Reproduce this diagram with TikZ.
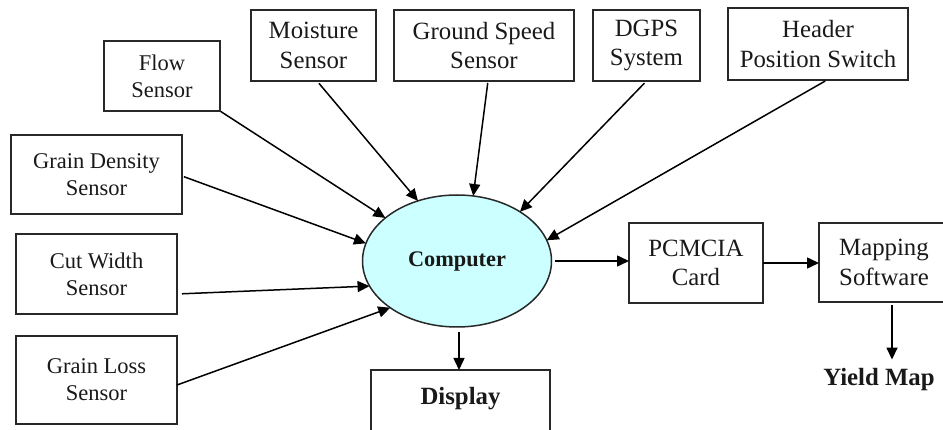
\documentclass[tikz,border=0pt]{standalone}
\usepackage{fontspec}
\setmainfont{Liberation Serif}
\usetikzlibrary{shapes.geometric,arrows.meta}
\definecolor{compfill}{RGB}{204,255,255}
\definecolor{edge}{RGB}{40,40,40}
\definecolor{txt}{RGB}{25,25,25}
\begin{document}
\begin{tikzpicture}[x=1pt,y=-1pt,
  box/.style={draw=edge,line width=1.7pt,rectangle,inner sep=0pt,outer sep=0pt,align=center,text=txt},
  smalltext/.style={font=\fontsize{22.5}{27}\selectfont},
  bigtext/.style={font=\fontsize{24.8}{29.8}\selectfont},
  boldtext/.style={font=\bfseries\fontsize{24.8}{29.8}\selectfont},
  arr/.style={draw=black,line width=1.5pt,-{Triangle[length=12pt,width=11pt]}},
]
\useasboundingbox (0,0) rectangle (943,430);

% sensor boxes
\node[box,smalltext,minimum width=116pt,minimum height=70pt] (flow) at (162,76) {Flow\\Sensor};
\node[box,bigtext,minimum width=125pt,minimum height=71pt] (moist) at (313.5,45.5) {Moisture\\Sensor};
\node[box,bigtext,minimum width=180pt,minimum height=71pt] (ground) at (484,45.5) {Ground Speed\\Sensor};
\node[box,bigtext,minimum width=107pt,minimum height=71pt] (dgps) at (646.5,45.5) {DGPS\\System};
\node[box,bigtext,minimum width=180pt,minimum height=72pt] (header) at (818,44) {Header\\Position Switch};
\node[box,smalltext,minimum width=171pt,minimum height=79pt] (density) at (96.5,174.5) {Grain Density\\Sensor};
\node[box,smalltext,minimum width=161pt,minimum height=80pt] (cut) at (96.5,274) {Cut Width\\Sensor};
\node[box,smalltext,minimum width=161pt,minimum height=88pt] (loss) at (96.5,380) {Grain Loss\\Sensor};

% central unit
\node[draw=edge,line width=1.5pt,ellipse,fill=compfill,minimum width=189pt,minimum height=132pt,
      inner sep=0pt,outer sep=0pt,text=txt,font=\bfseries\fontsize{22.3}{26}\selectfont] (comp) at (457,261) {Computer};

% outputs
\node[box,boldtext,minimum width=179pt,anchor=north,text height=35pt,text depth=35pt] (display) at (460.5,370) {Display};
\node[box,bigtext,minimum width=134pt,minimum height=80pt] (pcmcia) at (696,263) {PCMCIA\\Card};
\node[box,bigtext,minimum width=130pt,minimum height=79pt] (mapping) at (884,262.5) {Mapping\\Software};
\node[boldtext,text=txt,inner sep=0pt] (yield) at (879,380) {Yield Map};

% connectors
\draw[arr,shorten <=1pt] (flow.south east) -- (comp.149);
\draw[arr,shorten <=3pt] ([xshift=3.5pt]moist.south) -- (comp.123);
\draw[arr,shorten <=2pt] ([xshift=4pt]ground.south) -- (comp.76);
\draw[arr,shorten <=3pt] (dgps.south) -- (comp.38);
\draw[arr,shorten <=2pt] ([xshift=9pt]header.south) -- (comp.13);
\draw[arr,shorten <=2pt] ([yshift=-1.5pt]density.east) -- (comp.169);
\draw[arr,shorten <=5pt] ([yshift=-20pt]cut.east) -- (comp.196);
\draw[arr] ([yshift=-5pt]loss.east) -- (comp.215);
\draw[arr,shorten <=3pt] (comp.east) -- (comp.east -| pcmcia.west);
\draw[arr] (pcmcia.east) -- (pcmcia.east -| mapping.west);
\draw[arr,shorten <=5pt] ([xshift=2pt]comp.south) -- ([xshift=2pt]comp.south |- display.north);
\draw[arr,shorten <=3pt] ([xshift=8pt]mapping.south) -- ([xshift=8pt,yshift=9pt]mapping.south |- yield.north);
\end{tikzpicture}
\end{document}
